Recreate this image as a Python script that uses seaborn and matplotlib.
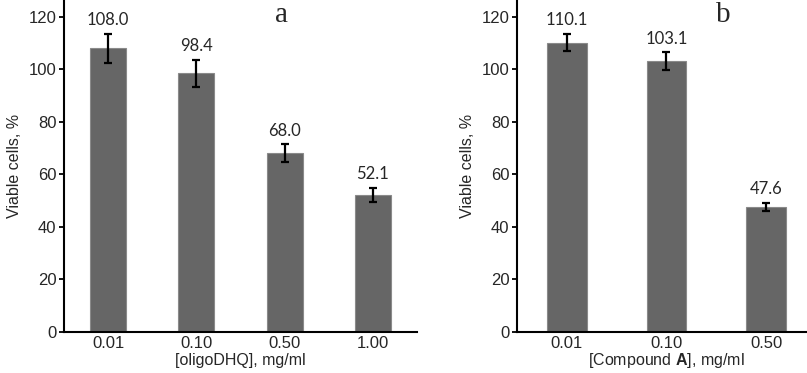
import matplotlib
matplotlib.use("Agg")
import matplotlib.pyplot as plt
import seaborn as sns
import numpy as np

# ── DATA ──────────────────────────────────────────────────────────────────────

CONC_A   = ["0.01", "0.10", "0.50", "1.00"]
VIAB_A   = [108.0, 98.4, 68.0, 52.1]
ERR_A    = [5.5, 5.1, 3.4, 2.7]

CONC_B   = ["0.01", "0.10", "0.50"]
VIAB_B   = [110.1, 103.1, 47.6]
ERR_B    = [3.3, 3.3, 1.5]

Y_TICKS  = [0, 20, 40, 60, 80, 100, 120]

BAR_COLOR = "#666666"
EDGE_COLOR = "#8a8a8a"

# ── STYLE ─────────────────────────────────────────────────────────────────────

sns.set_theme(style="white")
plt.rcParams.update({
    "font.family":       ["Liberation Sans", "DejaVu Sans"],
    "mathtext.fontset":  "custom",
    "mathtext.rm":       "Liberation Sans",
    "mathtext.bf":       "Liberation Sans:bold",
    "axes.edgecolor":    "black",
    "axes.linewidth":    1.5,
})


def panel(ax, cats, vals, errs, width, xlabel, letter, letter_x, lpad):
    sns.barplot(x=cats, y=vals, order=cats, color=BAR_COLOR, width=width,
                edgecolor=EDGE_COLOR, linewidth=0.8, saturation=1,
                errorbar=None, ax=ax)
    x = np.arange(len(cats))
    ax.errorbar(x, vals, yerr=errs, fmt="none", ecolor="black",
                elinewidth=1.6, capsize=3.2, capthick=1.6)
    for xi, v, e in zip(x, vals, errs):
        ax.annotate(f"{v:.1f}", (xi, v + e), xytext=(0, 4),
                    textcoords="offset points", ha="center", va="bottom",
                    fontsize=12, family=["Lato", "DejaVu Sans"])

    ax.set_xlim(-0.5, len(cats) - 0.5)
    ax.set_ylim(0, 126)
    ax.set_yticks(Y_TICKS)
    ax.tick_params(axis="y", direction="out", length=3.5, width=1.3,
                   pad=2, labelsize=12, left=True, color="black")
    ax.tick_params(axis="x", length=0, pad=3, labelsize=12)
    ax.set_xlabel(xlabel, fontsize=11.5, labelpad=lpad)
    ax.set_ylabel("Viable cells, %", fontsize=11.5, labelpad=5)
    sns.despine(ax=ax)
    ax.text(letter_x, 120.5, letter, ha="center", va="center",
            fontsize=21, family=["Liberation Serif"])


fig = plt.figure(figsize=(8.07, 3.73), dpi=100)
ax1 = fig.add_axes([0.0793, 0.110, 0.4374, 0.888])
ax2 = fig.add_axes([0.6406, 0.110, 0.3705, 0.888])

panel(ax1, CONC_A, VIAB_A, ERR_A, 0.41, "[oligoDHQ], mg/ml", "a", 1.97, 1)
panel(ax2, CONC_B, VIAB_B, ERR_B, 0.40, r"[Compound $\mathbf{A}$], mg/ml",
      "b", 1.57, 0)

fig.savefig("out.png", dpi=100)
